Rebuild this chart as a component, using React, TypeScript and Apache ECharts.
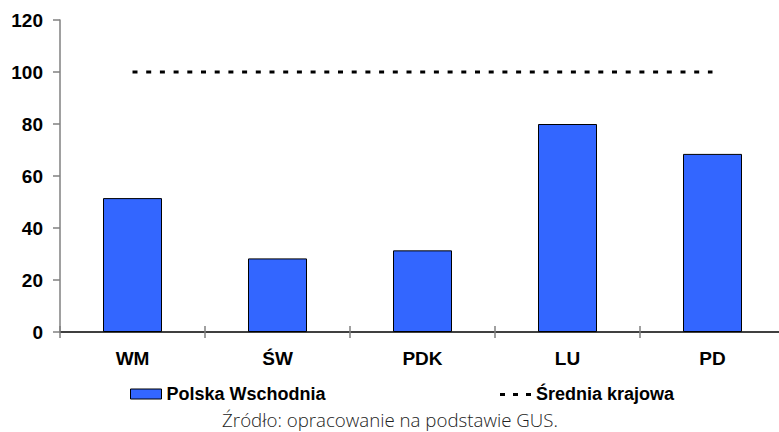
import React, { useEffect, useRef } from "react";
import * as echarts from "echarts";

const categories = ["WM", "ŚW", "PDK", "LU", "PD"];
const polskaWschodnia = [51.5, 28.3, 31.4, 80, 68.5];
const sredniaKrajowa = [100, 100, 100, 100, 100];
const seriesNames = ["Polska Wschodnia", "Średnia krajowa"];
const sourceText = "Źródło: opracowanie na podstawie GUS.";

const FONT = "Liberation Sans, Arial, sans-serif";

export default function App() {
  const ref = useRef<HTMLDivElement>(null);
  useEffect(() => {
    if (!ref.current) return;
    const chart = echarts.init(ref.current, undefined, { renderer: "svg" });
    chart.setOption({
      animation: false,
      backgroundColor: "#ffffff",
      graphic: [
        {
          type: "text",
          x: 390,
          y: 419,
          style: {
            text: sourceText,
            align: "center",
            verticalAlign: "middle",
            fontFamily: "Open Sans, sans-serif",
            fontWeight: 300,
            fontSize: 18.7,
            fill: "#222222",
          },
        },
        {
          type: "line",
          shape: { x1: 500, y1: 394.5, x2: 531, y2: 394.5 },
          style: { stroke: "#000", lineWidth: 3, lineDash: [5, 8] },
        },
      ],
      grid: { left: 60, top: 20, width: 725, bottom: 100, containLabel: false },
      legend: [
        {
          left: 130,
          top: 385,
          padding: 0,
          itemWidth: 31,
          itemHeight: 10,
          data: [
            {
              name: seriesNames[0],
              icon: "rect",
              itemStyle: { borderColor: "#000", borderWidth: 1 },
            },
          ],
          textStyle: { fontFamily: FONT, fontWeight: "bold", fontSize: 18, color: "#000" },
        },
        {
          left: 500,
          top: 385,
          padding: 0,
          itemWidth: 31,
          itemHeight: 3,
          data: [{ name: seriesNames[1], icon: "none" }],
          textStyle: { fontFamily: FONT, fontWeight: "bold", fontSize: 18, color: "#000" },
        },
      ],
      xAxis: [
        {
          type: "category",
          data: categories,
          position: "bottom",
          axisLine: { lineStyle: { color: "#000", width: 1.5 } },
          axisTick: { show: true, inside: false, length: 6, lineStyle: { color: "#808080", width: 1.5 } },
          axisLabel: {
            margin: 17,
            fontFamily: FONT,
            fontWeight: "bold",
            fontSize: 19,
            color: "#000",
          },
        },
        {
          type: "category",
          data: categories,
          position: "bottom",
          offset: 0,
          axisLine: { show: false },
          axisTick: { show: true, inside: true, length: 6, lineStyle: { color: "#808080", width: 1.5 } },
          axisLabel: { show: false },
        },
      ],
      yAxis: {
        type: "value",
        min: 0,
        max: 120,
        interval: 20,
        splitLine: { show: false },
        axisLine: { show: true, lineStyle: { color: "#808080", width: 1.5 } },
        axisTick: { show: true, length: 7, lineStyle: { color: "#808080", width: 1.5 } },
        axisLabel: {
          margin: 17,
          fontFamily: FONT,
          fontWeight: "bold",
          fontSize: 19,
          color: "#000",
        },
      },
      series: [
        {
          name: seriesNames[0],
          type: "bar",
          data: polskaWschodnia,
          barWidth: 59,
          itemStyle: { color: "#3366FF", borderColor: "#000", borderWidth: 1 },
        },
        {
          name: seriesNames[1],
          type: "line",
          data: sredniaKrajowa,
          symbol: "none",
          color: "#000",
          itemStyle: { color: "#000" },
          lineStyle: { color: "#000", width: 3, type: [5, 8.7] },
        },
      ],
    });
    return () => chart.dispose();
  }, []);
  return (
    <div
      style={{
        position: "absolute",
        left: 0,
        top: 0,
        width: 779,
        height: 432,
        overflow: "hidden",
      }}
    >
      <div ref={ref} style={{ width: 800, height: 432 }} />
    </div>
  );
}
